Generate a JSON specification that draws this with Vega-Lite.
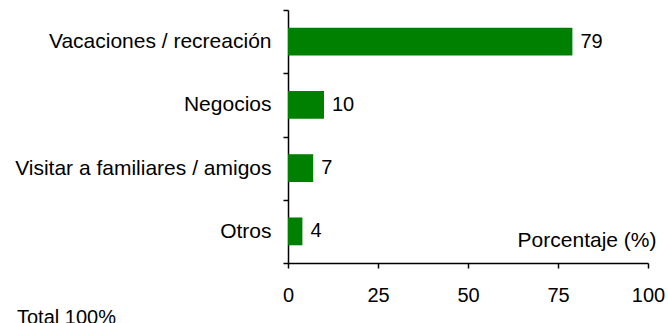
{
  "$schema": "https://vega.github.io/schema/vega-lite/v6.json",
  "width": 360,
  "height": 253,
  "autosize": {"type": "none"},
  "padding": {"left": 288, "top": 10, "right": 20, "bottom": 60},
  "background": "white",
  "config": {
    "view": {"stroke": null},
    "font": "Liberation Sans",
    "axis": {"grid": false, "domainColor": "black", "tickColor": "black", "domainWidth": 1.5, "tickWidth": 1.5, "labelColor": "black", "labelFontSize": 20, "labelFont": "Liberation Sans", "titleFont": "Liberation Sans"}
  },
  "title": {"text": "Total 100%", "orient": "bottom", "anchor": "start", "frame": "group", "dx": -271, "offset": 3, "fontSize": 20, "fontWeight": "normal", "color": "black", "font": "Liberation Sans"},
  "data": {"values": [
    {"motivo": "Vacaciones / recreación", "pct": 79},
    {"motivo": "Negocios", "pct": 10},
    {"motivo": "Visitar a familiares / amigos", "pct": 7},
    {"motivo": "Otros", "pct": 4}
  ]},
  "encoding": {
    "y": {"field": "motivo", "type": "nominal", "sort": null, "scale": {"paddingInner": 0, "paddingOuter": 0},
      "axis": {"title": null, "tickBand": "extent", "tickSize": 5, "labelPadding": 12, "labelLimit": 400, "labelFontSize": 21}},
    "x": {"field": "pct", "type": "quantitative", "scale": {"domain": [0, 100], "nice": false},
      "axis": {"values": [0, 25, 50, 75, 100], "tickSize": 5, "labelPadding": 17, "labelFlush": false,
        "title": "Porcentaje (%)", "titleX": 368, "titleY": -17, "titleAlign": "right", "titleBaseline": "alphabetic", "titleFontSize": 21, "titleFontWeight": "normal", "titleColor": "black"}}
  },
  "layer": [
    {"mark": {"type": "bar", "color": "#008000", "height": {"band": 0.44}}},
    {"mark": {"type": "text", "align": "left", "baseline": "middle", "dx": 8, "fontSize": 20, "color": "black", "font": "Liberation Sans"},
      "encoding": {"text": {"field": "pct", "type": "quantitative"}}}
  ]
}
